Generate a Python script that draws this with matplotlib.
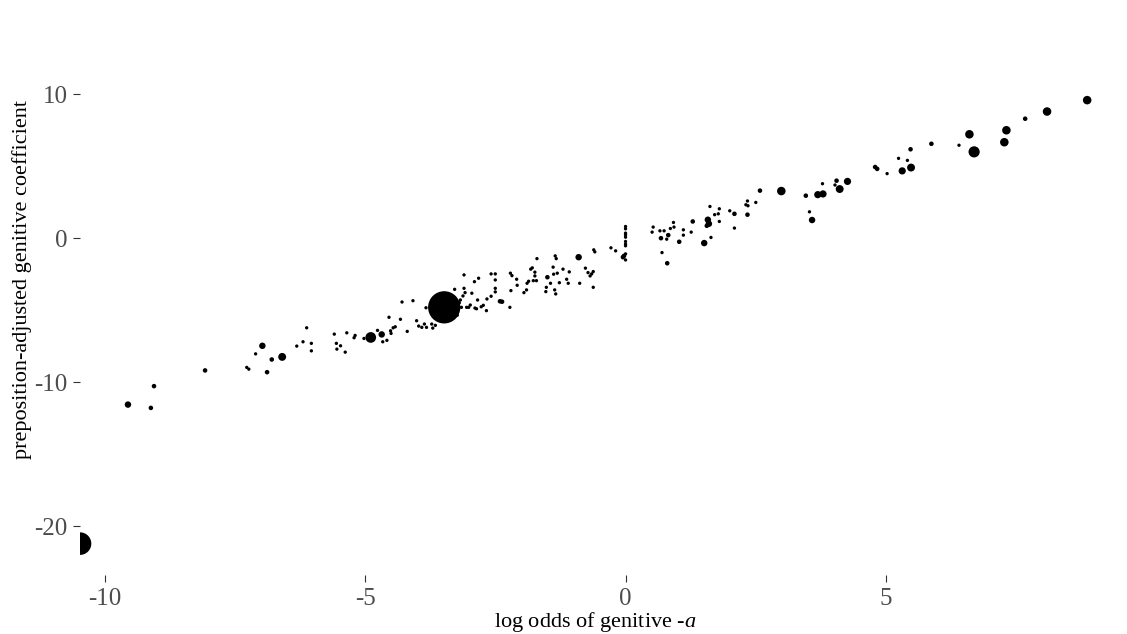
import matplotlib
matplotlib.use("Agg")
import matplotlib.pyplot as plt

plt.rcParams['font.family'] = ['Liberation Serif', 'DejaVu Serif']
plt.rcParams['mathtext.fontset'] = 'custom'
plt.rcParams['mathtext.rm'] = 'Liberation Serif'
plt.rcParams['mathtext.it'] = 'Liberation Serif:italic'
plt.rcParams['axes.unicode_minus'] = False

# log odds of the -a genitive per lemma, adjusted coefficient, and token count
log_odds = [
    -10.47, -9.55, -9.11, -9.05, -8.07, -7.27, -7.23, -7.10, -6.97, -6.88,
    -6.79, -6.59, -6.31, -6.19, -6.12, -6.03, -6.03, -5.59, -5.55, -5.54,
    -5.47, -5.38, -5.35, -5.21, -5.19, -5.02, -4.89, -4.76, -4.68, -4.66,
    -4.58, -4.54, -4.51, -4.50, -4.46, -4.42, -4.32, -4.29, -4.08, -4.19,
    -4.01, -3.97, -3.91, -3.86, -3.82, -3.72, -3.70, -3.65, -3.83, -3.48,
    -3.28, -3.23, -3.19, -3.17, -3.12, -3.15, -3.05, -3.10, -3.08, -3.10,
    -3.01, -2.98, -2.95, -2.89, -2.86, -2.84, -2.90, -2.82, -2.77, -2.73,
    -2.67, -2.66, -2.58, -2.58, -2.50, -2.50, -2.50, -2.50, -2.41, -2.37,
    -2.22, -2.21, -2.18, -2.20, -2.09, -2.08, -1.95, -1.90, -1.89, -1.86,
    -1.82, -1.79, -1.77, -1.71, -1.74, -1.74, -1.70, -1.52, -1.53, -1.50,
    -1.44, -1.39, -1.38, -1.31, -1.35, -1.33, -1.36, -1.34, -1.27, -1.20,
    -1.13, -1.08, -1.10, -0.90, -0.88, -0.77, -0.72, -0.68, -0.65, -0.62,
    -0.62, -0.61, -0.59, -0.28, -0.19, -0.03, -0.05, 0.00, 0.00,
    0.00, 0.00, 0.00, 0.00, 0.00, 0.00, 0.00, 0.00,
    0.53, 0.51, 0.66, 0.74, 0.68, 0.70, 0.79, 0.82, 0.80, 0.86,
    0.92, 0.93, 1.03, 1.11, 1.11, 1.26, 1.29, 1.51, 1.58, 1.60,
    1.56, 1.62, 1.64, 1.71, 1.78, 1.80, 1.80, 2.00, 2.09, 2.09,
    2.31, 2.35, 2.34, 2.34, 2.50, 2.58, 2.99, 3.46, 3.53, 3.58,
    3.69, 3.79, 3.78, 4.02, 4.05, 4.11, 4.26, 4.79, 4.83, 5.02,
    5.24, 5.41, 5.31, 5.48, 5.47, 5.87, 6.40, 6.60, 6.69, 7.31,
    7.27, 7.67, 8.09, 8.86,
]
coef = [
    -21.19, -11.54, -11.77, -10.26, -9.17, -8.96, -9.08, -8.02, -7.46, -9.29,
    -8.41, -8.23, -7.48, -7.18, -6.21, -7.29, -7.81, -6.65, -7.29, -7.69,
    -7.46, -7.90, -6.56, -6.90, -6.74, -6.95, -6.88, -6.39, -6.67, -7.18,
    -7.08, -5.48, -6.42, -6.60, -6.21, -6.14, -5.62, -4.42, -4.33, -6.46,
    -5.72, -6.09, -6.18, -5.95, -6.18, -5.95, -6.23, -6.04, -4.82, -4.79,
    -3.54, -5.34, -4.47, -4.28, -4.00, -4.79, -4.79, -3.47, -3.77, -2.54,
    -4.79, -4.63, -3.81, -4.84, -4.89, -4.28, -3.01, -2.77, -4.75, -4.65,
    -5.02, -4.21, -4.02, -2.47, -2.47, -2.89, -3.47, -3.72, -4.37, -4.40,
    -4.79, -2.42, -2.59, -3.63, -2.84, -3.26, -3.77, -3.58, -3.12, -2.98,
    -2.14, -2.05, -2.94, -2.94, -2.35, -2.61, -1.41, -3.40, -3.70, -2.70,
    -3.12, -2.00, -2.49, -2.42, -1.22, -1.41, -3.58, -3.86, -3.08, -2.14,
    -2.84, -2.33, -3.12, -1.31, -3.12, -2.07, -2.38, -2.61, -2.47, -2.31,
    -3.40, -0.80, -0.94, -0.66, -0.87, -1.22, -1.31, -1.08, -1.50,
    0.82, 0.66, 0.36, 0.24, 0.08, -0.22, -0.40, -0.52,
    0.78, 0.43, 0.52, 0.52, 0.01, -0.99, -0.06, 0.22, -1.73, 0.68,
    1.10, 0.78, -0.24, 0.59, 0.22, 0.43, 1.17, -0.33, 1.29, 1.01,
    0.87, 2.21, 0.06, 1.64, 1.70, 2.05, 1.17, 1.91, 1.70, 0.71,
    2.33, 2.26, 2.59, 1.64, 2.49, 3.31, 3.28, 2.96, 1.84, 1.27,
    3.03, 3.08, 3.79, 3.70, 4.00, 3.42, 3.95, 4.95, 4.82, 4.49,
    5.55, 5.41, 4.68, 4.91, 6.18, 6.56, 6.46, 7.22, 6.00, 7.50,
    6.67, 8.30, 8.80, 9.59,
]
n_tokens = [
    49, 4, 2, 2, 2, 1, 1, 1, 4, 2,
    2, 6, 1, 1, 1, 1, 1, 1, 1, 1,
    1, 1, 1, 1, 1, 1, 11, 1, 4, 1,
    1, 1, 1, 1, 1, 1, 1, 1, 1, 1,
    1, 1, 1, 1, 1, 1, 1, 1, 1, 100,
    1, 1, 1, 1, 1, 1, 1, 1, 1, 1,
    1, 1, 1, 1, 1, 1, 1, 1, 1, 1,
    1, 1, 1, 1, 1, 1, 1, 1, 2, 2,
    1, 1, 1, 1, 1, 1, 1, 1, 1, 1,
    1, 1, 1, 1, 1, 1, 1, 1, 1, 2,
    1, 1, 1, 1, 1, 1, 1, 1, 1, 1,
    1, 1, 1, 4, 1, 1, 1, 1, 1, 1,
    1, 1, 1, 1, 1, 2, 2, 1, 1,
    1, 1, 1, 1, 1, 1, 1, 1,
    1, 1, 1, 1, 2, 1, 1, 2, 2, 1,
    1, 1, 2, 1, 1, 1, 2, 4, 4, 4,
    2, 1, 1, 1, 1, 1, 1, 1, 2, 1,
    1, 1, 1, 2, 1, 2, 7, 2, 1, 4,
    5, 5, 1, 1, 2, 6, 5, 2, 2, 1,
    1, 1, 5, 6, 2, 2, 1, 7, 12, 7,
    7, 2, 7, 7,
]

# marker area grows with token count
sizes = [5.4 * n if n > 1 else 5.8 for n in n_tokens]

fig = plt.figure(figsize=(11.27, 6.34), dpi=100)
ax = fig.add_axes([0.071, 0.093, 0.914, 0.797])

ax.scatter(log_odds, coef, s=sizes, c='black', linewidths=0)

ax.set_xlim(min(log_odds), 9.3)
ax.set_ylim(-23.37, 11.7)
ax.set_xticks([-10, -5, 0, 5])
ax.set_yticks([-20, -10, 0, 10])

for side in ['top', 'right', 'bottom', 'left']:
    ax.spines[side].set_visible(False)

ax.tick_params(length=5, width=0.8, color='#333333', labelcolor='#4D4D4D',
               labelsize=18, pad=4)

ax.set_xlabel('log odds of genitive -$\\mathit{a}$', fontsize=16, labelpad=0)
ax.set_ylabel('preposition-adjusted genitive coefficient', fontsize=16)
ax.yaxis.set_label_coords(-0.047, 0.585)

fig.savefig('out.png', dpi=100)
